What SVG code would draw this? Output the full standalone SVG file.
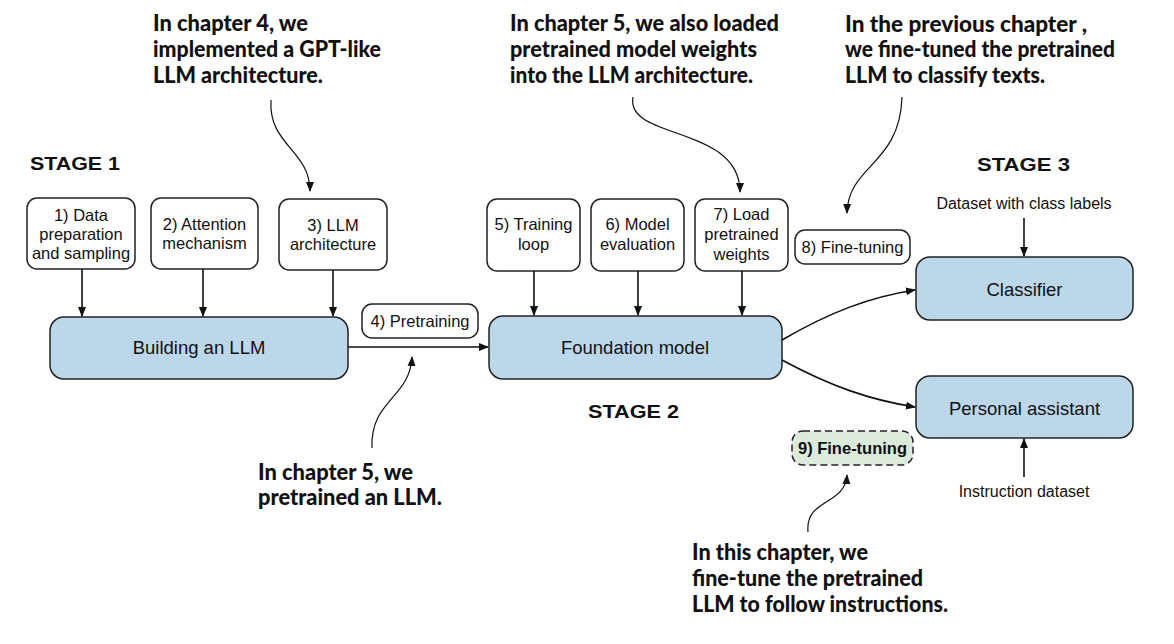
<svg xmlns="http://www.w3.org/2000/svg" width="1174" height="644" viewBox="0 0 1174 644">
<defs>
<marker id="ah" markerWidth="10" markerHeight="10" refX="9" refY="5" orient="auto" markerUnits="userSpaceOnUse">
<path d="M0,1 L10,5 L0,9 Z" fill="#111"/>
</marker>
<style>
.box{fill:#fff;stroke:#222;stroke-width:1.5}
.blue{fill:#bdd7ea;stroke:#222;stroke-width:1.5}
.dash{fill:#dceadb;stroke:#222;stroke-width:1.5;stroke-dasharray:7,4}
.t{font-family:"Liberation Sans",Arial,sans-serif;font-size:16.5px;fill:#111;text-anchor:middle}
.tb{font-family:"Liberation Sans",Arial,sans-serif;font-size:18.5px;fill:#111;text-anchor:middle}
.st{font-family:"Liberation Sans",Arial,sans-serif;font-size:19px;font-weight:bold;fill:#111}
.an{font-family:Lato,"Open Sans",sans-serif;font-size:22px;font-weight:900;fill:#111}
.c{fill:none;stroke:#111;stroke-width:1.6}
.cu{fill:none;stroke:#111;stroke-width:1.2}
</style>
</defs>
<rect width="1174" height="644" fill="#fff"/>

<g id="stage-labels">
<text class="st" x="30" y="170" textLength="90" lengthAdjust="spacingAndGlyphs">STAGE 1</text>
<text class="st" x="588" y="418" textLength="91" lengthAdjust="spacingAndGlyphs">STAGE 2</text>
<text class="st" x="977" y="171" textLength="93" lengthAdjust="spacingAndGlyphs">STAGE 3</text>
</g>

<g id="n1"><rect class="box" x="27" y="198" width="108" height="71" rx="10"/>
<text class="t" x="81" y="220.5">1) Data</text><text class="t" x="81" y="239.5">preparation</text><text class="t" x="81" y="258.5">and sampling</text></g>
<g id="n2"><rect class="box" x="151" y="198" width="107" height="71" rx="10"/>
<text class="t" x="204.5" y="230">2) Attention</text><text class="t" x="204.5" y="249">mechanism</text></g>
<g id="n3"><rect class="box" x="279" y="199" width="108" height="71" rx="10"/>
<text class="t" x="333" y="231">3) LLM</text><text class="t" x="333" y="250">architecture</text></g>
<g id="building"><rect class="blue" x="50" y="317" width="298" height="62" rx="14"/>
<text class="tb" x="199" y="354">Building an LLM</text></g>
<g id="pretraining"><rect class="box" x="362" y="304" width="116" height="34" rx="10"/>
<text class="t" x="420" y="327">4) Pretraining</text></g>

<g id="n5"><rect class="box" x="487" y="199" width="93" height="72" rx="10"/>
<text class="t" x="533.5" y="230">5) Training</text><text class="t" x="533.5" y="250">loop</text></g>
<g id="n6"><rect class="box" x="591" y="199" width="93" height="72" rx="10"/>
<text class="t" x="637.5" y="230">6) Model</text><text class="t" x="637.5" y="250">evaluation</text></g>
<g id="n7"><rect class="box" x="695" y="199" width="93" height="72" rx="10"/>
<text class="t" x="741.5" y="220">7) Load</text><text class="t" x="741.5" y="240">pretrained</text><text class="t" x="741.5" y="260">weights</text></g>
<g id="ft8"><rect class="box" x="795" y="230" width="115" height="34" rx="10"/>
<text class="t" x="852.5" y="253">8) Fine-tuning</text></g>
<g id="foundation"><rect class="blue" x="489" y="316" width="293" height="63" rx="14"/>
<text class="tb" x="635" y="354">Foundation model</text></g>

<g id="classifier"><rect class="blue" x="916" y="257" width="217" height="63" rx="14"/>
<text class="tb" x="1024.5" y="296">Classifier</text></g>
<g id="assistant"><rect class="blue" x="916" y="376" width="217" height="62" rx="14"/>
<text class="tb" x="1024.5" y="415">Personal assistant</text></g>
<g id="ds1"><text class="t" x="1024" y="209" style="font-size:16px">Dataset with class labels</text></g>
<g id="ds2"><text class="t" x="1024" y="497" style="font-size:16px">Instruction dataset</text></g>
<g id="ft9"><rect class="dash" x="792" y="431" width="121" height="34" rx="11"/>
<text class="t" x="852.5" y="454" style="font-weight:bold">9) Fine-tuning</text></g>

<g id="annotations">
<text class="an" x="153" y="31" textLength="155" lengthAdjust="spacingAndGlyphs">In chapter 4, we</text>
<text class="an" x="153" y="57" textLength="228" lengthAdjust="spacingAndGlyphs">implemented a GPT-like</text>
<text class="an" x="153" y="83" textLength="170" lengthAdjust="spacingAndGlyphs">LLM architecture.</text>

<text class="an" x="510" y="31" textLength="269" lengthAdjust="spacingAndGlyphs">In chapter 5, we also loaded</text>
<text class="an" x="510" y="57" textLength="247" lengthAdjust="spacingAndGlyphs">pretrained model weights</text>
<text class="an" x="510" y="83" textLength="243" lengthAdjust="spacingAndGlyphs">into the LLM architecture.</text>

<text class="an" x="845" y="32" textLength="242" lengthAdjust="spacingAndGlyphs">In the previous chapter ,</text>
<text class="an" x="845" y="57" textLength="270" lengthAdjust="spacingAndGlyphs">we fine-tuned the pretrained</text>
<text class="an" x="845" y="83" textLength="200" lengthAdjust="spacingAndGlyphs">LLM to classify texts.</text>

<text class="an" x="258" y="480" textLength="155" lengthAdjust="spacingAndGlyphs">In chapter 5, we</text>
<text class="an" x="258" y="505" textLength="184" lengthAdjust="spacingAndGlyphs">pretrained an LLM.</text>

<text class="an" x="692" y="560" textLength="176" lengthAdjust="spacingAndGlyphs">In this chapter, we</text>
<text class="an" x="692" y="586" textLength="231" lengthAdjust="spacingAndGlyphs">fine-tune the pretrained</text>
<text class="an" x="692" y="612" textLength="256" lengthAdjust="spacingAndGlyphs">LLM to follow instructions.</text>
</g>

<g id="connectors">
<line class="c" x1="82" y1="269" x2="82" y2="316" marker-end="url(#ah)"/>
<line class="c" x1="203" y1="269" x2="203" y2="316" marker-end="url(#ah)"/>
<line class="c" x1="333" y1="270" x2="333" y2="316" marker-end="url(#ah)"/>
<line class="c" x1="348" y1="347" x2="488" y2="347" marker-end="url(#ah)"/>
<line class="c" x1="534" y1="271" x2="534" y2="315" marker-end="url(#ah)"/>
<line class="c" x1="638" y1="271" x2="638" y2="315" marker-end="url(#ah)"/>
<line class="c" x1="742" y1="271" x2="742" y2="315" marker-end="url(#ah)"/>
<path class="c" d="M782,340 C830,312 870,297 915,290" marker-end="url(#ah)"/>
<path class="c" d="M782,360 C830,386 870,400 915,407" marker-end="url(#ah)"/>
<line class="c" x1="1024" y1="218" x2="1024" y2="256" marker-end="url(#ah)"/>
<line class="c" x1="1024" y1="477" x2="1024" y2="439" marker-end="url(#ah)"/>
<path class="cu" d="M271,100 C268,145 310,150 310,191" marker-end="url(#ah)"/>
<path class="cu" d="M633,97 C625,140 740,125 740,192" marker-end="url(#ah)"/>
<path class="cu" d="M902,97 C900,165 848,165 847,213" marker-end="url(#ah)"/>
<path class="cu" d="M372,448 C370,400 410,398 412,357" marker-end="url(#ah)"/>
<path class="cu" d="M808,532 C805,498 845,506 847,475" marker-end="url(#ah)"/>
</g>
</svg>
